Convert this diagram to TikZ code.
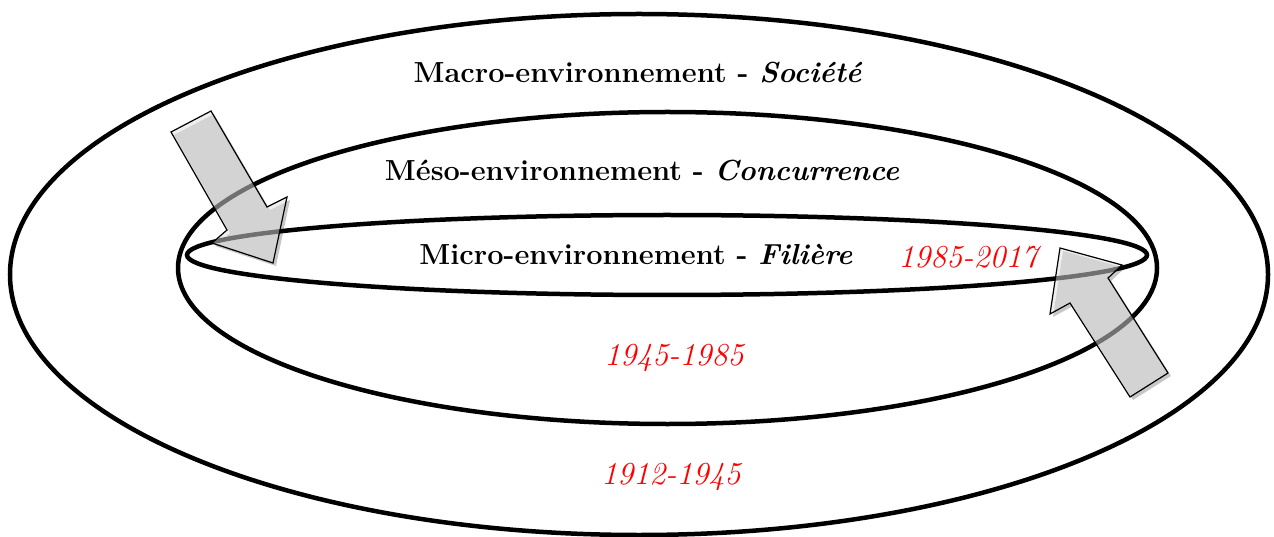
\documentclass[tikz,border=0pt]{standalone}
\usetikzlibrary{shapes.geometric}
\begin{document}
\begin{tikzpicture}[x=1pt,y=-1pt,
  ring/.style={draw=black, line width=4.5pt, ellipse, inner sep=0pt},
  title/.style={font=\fontsize{29}{34}\selectfont\bfseries, inner sep=0pt},
  period/.style={font=\fontsize{32}{36}\selectfont\itshape, text=red, inner sep=0pt},
  blockarrow/.style={draw=black, line width=1.2pt, fill=black!12, fill opacity=0.5, line join=miter},
  arrowshadow/.style={fill=black!22, draw=none}]
\useasboundingbox (0,0) rectangle (1274,537);
% arrow shadows (beneath everything)
\fill[arrowshadow] (174,135) -- (214,114) -- (270,210) -- (290,200) -- (276,266) -- (215,246) -- (230,233) -- cycle;
\fill[arrowshadow] (1063,251) -- (1125,268) -- (1111,281) -- (1171,376) -- (1133,400) -- (1073,306) -- (1053,317) -- cycle;
\node[ring, minimum width=1258pt, minimum height=521pt] (outer) at (639,274.5) {};
\node[ring, minimum width=979pt, minimum height=312pt] (meso) at (667.5,268) {};
\node[ring, minimum width=960pt, minimum height=80pt] (micro) at (667,255) {};
% left arrow
\draw[blockarrow] (171,132) -- (211,111) -- (267,207) -- (287,197) -- (273,263) -- (212,243) -- (227,230) -- cycle;
% right arrow
\draw[blockarrow] (1060,248) -- (1122,265) -- (1108,278) -- (1168,373) -- (1130,397) -- (1070,303) -- (1050,314) -- cycle;
\node[title] (macrot) at (638,73) {Macro-environnement - \textit{Société}};
\node[title] (mesot) at (642,171) {Méso-environnement - \textit{Concurrence}};
\node[title] (microt) at (636,254) {Micro-environnement - \textit{Filière}};
\node[period] (p3) at (968,257) {1985-2017};
\node[period] (p2) at (674,358) {1945-1985};
\node[period] (p1) at (671,477) {1912-1945};
\end{tikzpicture}
\end{document}
